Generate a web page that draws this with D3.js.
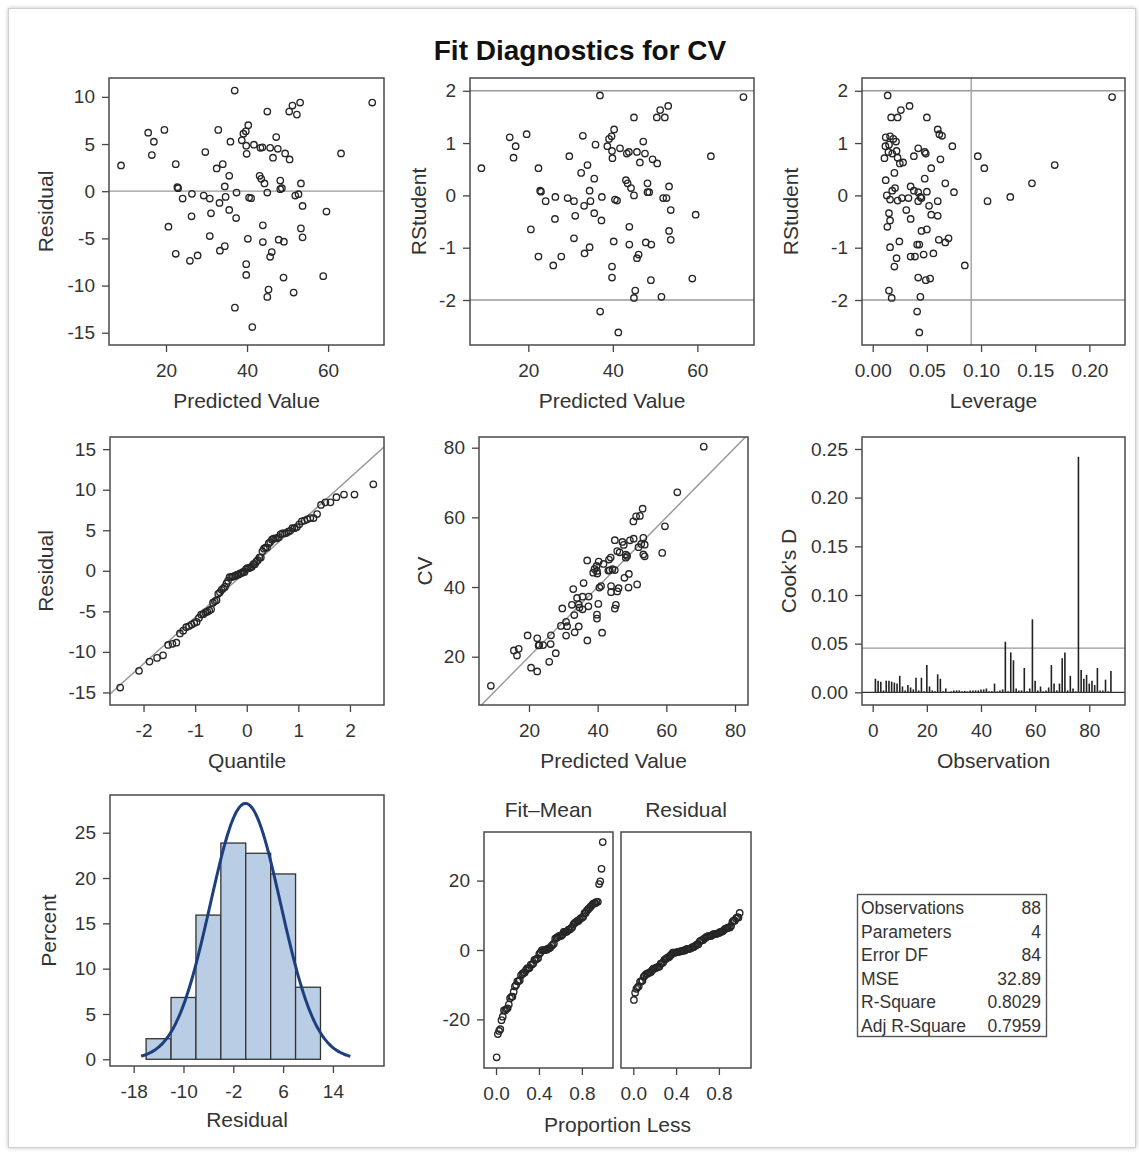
<!DOCTYPE html>
<html><head><meta charset="utf-8">
<script src="https://cdn.jsdelivr.net/npm/d3@7"></script>
<style>
body{margin:0;background:#fff;}
svg text{font-family:"Liberation Sans",Arial,Helvetica,sans-serif;fill:#333;}
</style></head><body>
<svg id="c" width="1139" height="1157"></svg>
<script>
// ---- data ----
const predicted = [36.95,70.9,53.1,51.2,50.4,52.3,45.0,15.6,19.6,17.0,16.5,8.9,32.9,40.3,39.7,39.1,38.7,35.9,47.2,39.8,39.9,41.7,43.3,43.8,45.7,47.6,49.4,50.5,46.4,29.7,22.4,34.0,32.5,35.6,63.2,43.1,43.5,44.3,48.2,53.3,48.2,48.6,22.8,23.0,34.5,45.0,37.4,26.4,24.1,29.3,30.8,34.7,33.2,40.5,41.0,51.9,52.7,53.7,59.6,35.6,31.1,26.3,37.3,20.6,43.9,53.3,53.7,30.8,40.2,43.9,47.8,49.1,34.5,33.3,22.4,27.8,25.9,46.1,45.7,39.8,39.8,49.0,58.8,45.3,45.0,51.5,37.0,41.3];
const residual = [10.67,9.4,9.4,9.08,8.44,8.12,8.44,6.2,6.5,5.25,3.83,2.73,6.5,7.0,6.35,6.1,5.4,5.25,5.74,4.82,3.97,4.93,4.6,4.65,4.6,4.5,4.0,3.37,3.55,4.15,2.87,2.87,2.41,1.63,4.0,1.63,1.31,0.82,1.13,0.82,0.21,0.32,0.43,0.32,0.5,-0.14,-0.14,-0.28,-0.78,-0.46,-0.78,-0.6,-1.24,-0.67,-0.74,-0.46,-0.32,-1.56,-2.16,-1.99,-2.34,-2.66,-2.84,-3.76,-3.62,-3.94,-4.89,-4.75,-5.04,-5.39,-5.14,-5.35,-5.82,-6.31,-6.63,-6.81,-7.38,-6.45,-6.95,-7.73,-8.87,-9.15,-9.0,-10.43,-11.2,-10.74,-12.34,-14.4];
const rstudent = [1.91,1.88,1.71,1.63,1.49,1.49,1.49,1.11,1.17,0.94,0.72,0.52,1.14,1.26,1.13,1.08,0.94,0.97,1.03,0.85,0.71,0.90,0.80,0.83,0.83,0.80,0.69,0.61,0.63,0.75,0.52,0.58,0.43,0.32,0.75,0.29,0.23,0.14,0.23,0.17,0.06,0.06,0.09,0.07,0.09,0.0,-0.03,-0.03,-0.11,-0.05,-0.11,-0.11,-0.20,-0.08,-0.10,-0.05,-0.05,-0.28,-0.37,-0.34,-0.39,-0.45,-0.48,-0.65,-0.60,-0.68,-0.85,-0.82,-0.88,-0.94,-0.90,-0.94,-0.99,-1.11,-1.17,-1.17,-1.34,-1.13,-1.20,-1.36,-1.57,-1.62,-1.59,-1.82,-1.96,-1.94,-2.22,-2.62];
const leverage = [0.0138,0.221,0.034,0.026,0.017,0.050,0.023,0.012,0.0615,0.0117,0.023,0.103,0.064,0.060,0.016,0.019,0.0735,0.015,0.0215,0.022,0.0108,0.042,0.049,0.048,0.0145,0.018,0.0625,0.025,0.028,0.038,0.054,0.168,0.020,0.048,0.097,0.012,0.147,0.0206,0.067,0.035,0.075,0.042,0.038,0.050,0.018,0.013,0.127,0.044,0.106,0.027,0.060,0.042,0.052,0.016,0.023,0.033,0.045,0.031,0.054,0.015,0.060,0.035,0.016,0.050,0.0135,0.045,0.061,0.070,0.0246,0.041,0.067,0.043,0.016,0.056,0.035,0.039,0.085,0.047,0.022,0.020,0.042,0.049,0.053,0.015,0.0175,0.044,0.041,0.043];
const cooksD = [0.014,0.012,0.011,0.002,0.012,0.012,0.011,0.010,0.009,0.017,0.006,0.002,0.0075,0.005,0.003,0.015,0.002,0.015,0.001,0.028,0.006,0.002,0.001,0.0185,0.014,0.001,0.004,0.0005,0.001,0.002,0.002,0.002,0.001,0.0015,0.001,0.002,0.002,0.002,0.002,0.003,0.003,0.004,0.001,0.001,0.009,0.001,0.002,0.003,0.052,0.001,0.041,0.033,0.004,0.002,0.002,0.025,0.001,0.004,0.075,0.012,0.002,0.006,0.001,0.002,0.005,0.028,0.009,0.002,0.009,0.035,0.041,0.002,0.017,0.004,0.001,0.242,0.023,0.014,0.018,0.009,0.012,0.0075,0.025,0.002,0.002,0.013,0.001,0.022];
const histStart = [-16,-12,-8,-4,0,4,8];
const histPercent = [2.27,6.82,15.91,23.86,22.73,20.45,7.95];
const statLabels = ["Observations","Parameters","Error DF","MSE","R-Square","Adj R-Square"];
const statValues = ["88","4","84","32.89","0.8029","0.7959"];
const nObs = 88, nParm = 4, mse = 32.89;

// ---- helpers ----
const svg = d3.select("#c");
const defs = svg.append("defs");
const f = defs.append("filter").attr("id","sh").attr("x","-2%").attr("y","-2%").attr("width","104%").attr("height","104%");
f.append("feGaussianBlur").attr("in","SourceAlpha").attr("stdDeviation",2);
f.append("feOffset").attr("dx",0).attr("dy",0).attr("result","b");
f.append("feComponentTransfer").append("feFuncA").attr("type","linear").attr("slope",0.25);
const fm = f.append("feMerge"); fm.append("feMergeNode"); fm.append("feMergeNode").attr("in","SourceGraphic");
svg.append("rect").attr("x",8.5).attr("y",8.5).attr("width",1127).attr("height",1139)
  .attr("fill","#fff").attr("stroke","#cfcfcf").attr("stroke-width",1).attr("filter","url(#sh)");

svg.append("text").attr("x",580).attr("y",60).attr("text-anchor","middle")
  .style("font-size","28px").style("font-weight","bold").style("fill","#111").text("Fit Diagnostics for CV");

const hy = d => String(d).replace("\u2212","-");
let clipN = 0;
function styleAxis(g){
  g.select(".domain").remove();
  g.attr("font-family",null).attr("font-size",null);
  g.selectAll(".tick line").attr("stroke","#444").attr("stroke-width",1.3);
  g.selectAll(".tick text").style("font-size","19px").attr("fill","#333");
}
function panel(o){
  const g = svg.append("g");
  const x = d3.scaleLinear().domain(o.xDomain).range([o.left,o.right]);
  const y = d3.scaleLinear().domain(o.yDomain).range([o.bottom,o.top]);
  const id = "clip"+(clipN++);
  defs.append("clipPath").attr("id",id).append("rect")
    .attr("x",o.left).attr("y",o.top).attr("width",o.right-o.left).attr("height",o.bottom-o.top);
  const plot = g.append("g").attr("clip-path",`url(#${id})`);
  if(o.xTicks){
    g.append("g").attr("transform",`translate(0,${o.bottom})`)
      .call(d3.axisBottom(x).tickValues(o.xTicks).tickFormat(o.xFmt||hy).tickSize(7).tickPadding(12)).call(styleAxis);
  }
  if(o.yTicks){
    g.append("g").attr("transform",`translate(${o.left},0)`)
      .call(d3.axisLeft(y).tickValues(o.yTicks).tickFormat(o.yFmt||hy).tickSize(7).tickPadding(7)).call(styleAxis);
  }
  if(o.xLabel){
    g.append("text").attr("x",(o.left+o.right)/2).attr("y",o.bottom+o.xLabelDy)
      .attr("text-anchor","middle").style("font-size","21px").text(o.xLabel);
  }
  if(o.yLabel){
    g.append("text").attr("transform",`translate(${o.yLabelX},${(o.top+o.bottom)/2}) rotate(-90)`)
      .attr("dy","0.36em").attr("text-anchor","middle").style("font-size","21px").text(o.yLabel);
  }
  const frame = () => g.append("rect").attr("x",o.left).attr("y",o.top)
      .attr("width",o.right-o.left).attr("height",o.bottom-o.top)
      .attr("fill","none").attr("stroke","#4a4a4a").attr("stroke-width",1.5);
  return {g,plot,x,y,frame,o};
}
function hline(p,v,color){
  p.plot.append("line").attr("x1",p.o.left).attr("x2",p.o.right).attr("y1",p.y(v)).attr("y2",p.y(v))
    .attr("stroke",color||"#9a9a9a").attr("stroke-width",1.3);
}
function vline(p,v,color){
  p.plot.append("line").attr("y1",p.o.top).attr("y2",p.o.bottom).attr("x1",p.x(v)).attr("x2",p.x(v))
    .attr("stroke",color||"#9a9a9a").attr("stroke-width",1.3);
}
function dots(p,xs,ys){
  p.plot.selectAll(null).data(xs).join("circle")
    .attr("cx",(d)=>p.x(d)).attr("cy",(d,i)=>p.y(ys[i])).attr("r",3.2)
    .attr("fill","none").attr("stroke","#262626").attr("stroke-width",1.35);
}
function qnorm(p){
  const a=[-3.969683028665376e+01,2.209460984245205e+02,-2.759285104469687e+02,1.383577518672690e+02,-3.066479806614716e+01,2.506628277459239e+00];
  const b=[-5.447609879822406e+01,1.615858368580409e+02,-1.556989798598866e+02,6.680131188771972e+01,-1.328068155288572e+01];
  const c=[-7.784894002430293e-03,-3.223964580411365e-01,-2.400758277161838e+00,-2.549732539343734e+00,4.374664141464968e+00,2.938163982698783e+00];
  const d=[7.784695709041462e-03,3.224671290700398e-01,2.445134137142996e+00,3.754408661907416e+00];
  const pl=0.02425;
  let q,r;
  if(p<pl){q=Math.sqrt(-2*Math.log(p));return (((((c[0]*q+c[1])*q+c[2])*q+c[3])*q+c[4])*q+c[5])/((((d[0]*q+d[1])*q+d[2])*q+d[3])*q+1);}
  if(p>1-pl){q=Math.sqrt(-2*Math.log(1-p));return -(((((c[0]*q+c[1])*q+c[2])*q+c[3])*q+c[4])*q+c[5])/((((d[0]*q+d[1])*q+d[2])*q+d[3])*q+1);}
  q=p-0.5;r=q*q;return (((((a[0]*r+a[1])*r+a[2])*r+a[3])*r+a[4])*r+a[5])*q/(((((b[0]*r+b[1])*r+b[2])*r+b[3])*r+b[4])*r+1);
}

// ---- Row 1 ----
const p1 = panel({left:109,right:384,top:78,bottom:345,xDomain:[5.93,73.8],yDomain:[-16.3,12.0],
  xTicks:[20,40,60],yTicks:[-15,-10,-5,0,5,10],xLabel:"Predicted Value",xLabelDy:63,yLabel:"Residual",yLabelX:45});
hline(p1,0); dots(p1,predicted,residual); p1.frame();

const p2 = panel({left:470,right:754,top:78,bottom:345,xDomain:[6.2,73.4],yDomain:[-2.86,2.244],
  xTicks:[20,40,60],yTicks:[-2,-1,0,1,2],xLabel:"Predicted Value",xLabelDy:63,yLabel:"RStudent",yLabelX:418});
hline(p2,2); hline(p2,-2); dots(p2,predicted,rstudent); p2.frame();

const p3 = panel({left:862,right:1125,top:78,bottom:345,xDomain:[-0.0099,0.2329],yDomain:[-2.86,2.244],
  xTicks:[0,0.05,0.10,0.15,0.20],xFmt:d=>d.toFixed(2),yTicks:[-2,-1,0,1,2],xLabel:"Leverage",xLabelDy:63,yLabel:"RStudent",yLabelX:790});
hline(p3,2); hline(p3,-2); vline(p3,2*nParm/nObs); dots(p3,leverage,rstudent); p3.frame();

// ---- Row 2 ----
const sigma = Math.sqrt(mse);
const p4 = panel({left:110,right:384,top:437,bottom:705,xDomain:[-2.65,2.66],yDomain:[-16.55,16.5],
  xTicks:[-2,-1,0,1,2],yTicks:[-15,-10,-5,0,5,10,15],xLabel:"Quantile",xLabelDy:63,yLabel:"Residual",yLabelX:45});
p4.plot.append("line").attr("x1",p4.x(-3)).attr("y1",p4.y(-3*sigma)).attr("x2",p4.x(3)).attr("y2",p4.y(3*sigma))
  .attr("stroke","#9a9a9a").attr("stroke-width",1.5);
const sortedRes = residual.slice().sort(d3.ascending);
const quant = sortedRes.map((d,i)=>qnorm((i+1-0.375)/(nObs+0.25)));
dots(p4,quant,sortedRes); p4.frame();

const cv = predicted.map((d,i)=>d+residual[i]);
const p5 = panel({left:479,right:748,top:437,bottom:705,xDomain:[5.44,83.79],yDomain:[6.13,83.07],
  xTicks:[20,40,60,80],yTicks:[20,40,60,80],xLabel:"Predicted Value",xLabelDy:63,yLabel:"CV",yLabelX:424});
p5.plot.append("line").attr("x1",p5.x(0)).attr("y1",p5.y(0)).attr("x2",p5.x(90)).attr("y2",p5.y(90))
  .attr("stroke","#9a9a9a").attr("stroke-width",1.5);
dots(p5,predicted,cv); p5.frame();

const obsIdx = cooksD.map((d,i)=>i+1);
const p6 = panel({left:862,right:1125,top:437,bottom:705,xDomain:[-3.95,93.2],yDomain:[-0.013,0.2623],
  xTicks:[0,20,40,60,80],yTicks:[0,0.05,0.10,0.15,0.20,0.25],yFmt:d=>d.toFixed(2),xLabel:"Observation",xLabelDy:63,yLabel:"Cook's D",yLabelX:788});
hline(p6,4/nObs);
p6.plot.selectAll(null).data(cooksD).join("line")
  .attr("x1",(d,i)=>p6.x(obsIdx[i])).attr("x2",(d,i)=>p6.x(obsIdx[i]))
  .attr("y1",p6.y(0)).attr("y2",d=>p6.y(d)).attr("stroke","#222").attr("stroke-width",1.6);
hline(p6,0,"#333");
p6.frame();

// ---- Row 3 ----
const ph = panel({left:110,right:384,top:795,bottom:1066,xDomain:[-21.8,22.2],yDomain:[-0.74,29.16],
  xTicks:[-18,-10,-2,6,14],yTicks:[0,5,10,15,20,25],xLabel:"Residual",xLabelDy:61,yLabel:"Percent",yLabelX:48});
ph.plot.selectAll(null).data(histPercent).join("rect")
  .attr("x",(d,i)=>ph.x(histStart[i])).attr("width",(d,i)=>ph.x(histStart[i]+4)-ph.x(histStart[i]))
  .attr("y",d=>ph.y(d)).attr("height",d=>ph.y(0)-ph.y(d))
  .attr("fill","#b9cde5").attr("stroke","#333").attr("stroke-width",1.3);
const rMean = d3.mean(residual), rSd = d3.deviation(residual);
const curveX = d3.range(-16.8,16.81,0.2);
const dens = curveX.map(v=>400*Math.exp(-0.5*((v-rMean)/rSd)**2)/(rSd*Math.sqrt(2*Math.PI)));
ph.plot.append("path").attr("d",d3.line().x((d)=>ph.x(d)).y((d,i)=>ph.y(dens[i])).curve(d3.curveBasis)(curveX))
  .attr("fill","none").attr("stroke","#1d3f7e").attr("stroke-width",3);
ph.frame();

const predMean = d3.mean(predicted);
const fitMean = predicted.map(d=>d-predMean).sort(d3.ascending);
const propLess = fitMean.map((d,i)=>(i+0.5)/nObs);
const pf = panel({left:484,right:613,top:832,bottom:1068,xDomain:[-0.112,1.09],yDomain:[-34,34],
  xTicks:[0,0.4,0.8],xFmt:d=>d.toFixed(1),yTicks:[-20,0,20]});
dots(pf,propLess,fitMean); pf.frame();
const pr = panel({left:621,right:751,top:832,bottom:1068,xDomain:[-0.115,1.10],yDomain:[-34,34],
  xTicks:[0,0.4,0.8],xFmt:d=>d.toFixed(1)});
dots(pr,propLess,sortedRes); pr.frame();
svg.append("text").attr("x",(484+613)/2).attr("y",817).attr("text-anchor","middle").style("font-size","21px").text("Fit\u2013Mean");
svg.append("text").attr("x",(621+751)/2).attr("y",817).attr("text-anchor","middle").style("font-size","21px").text("Residual");
svg.append("text").attr("x",(484+751)/2).attr("y",1132).attr("text-anchor","middle").style("font-size","21px").text("Proportion Less");

// ---- stats table ----
const tb = svg.append("g");
tb.append("rect").attr("x",857.5).attr("y",894.5).attr("width",189).attr("height",142)
  .attr("fill","#fff").attr("stroke","#555").attr("stroke-width",1.4);
const rowY = d3.scaleLinear().domain([0,statLabels.length-1]).range([914,1031.5]);
tb.selectAll(null).data(statLabels).join("text").attr("x",861).attr("y",(d,i)=>rowY(i))
  .style("font-size","17.5px").text(d=>d);
tb.selectAll(null).data(statValues).join("text").attr("x",1041).attr("y",(d,i)=>rowY(i))
  .attr("text-anchor","end").style("font-size","17.5px").text(d=>d);
</script></body></html>
